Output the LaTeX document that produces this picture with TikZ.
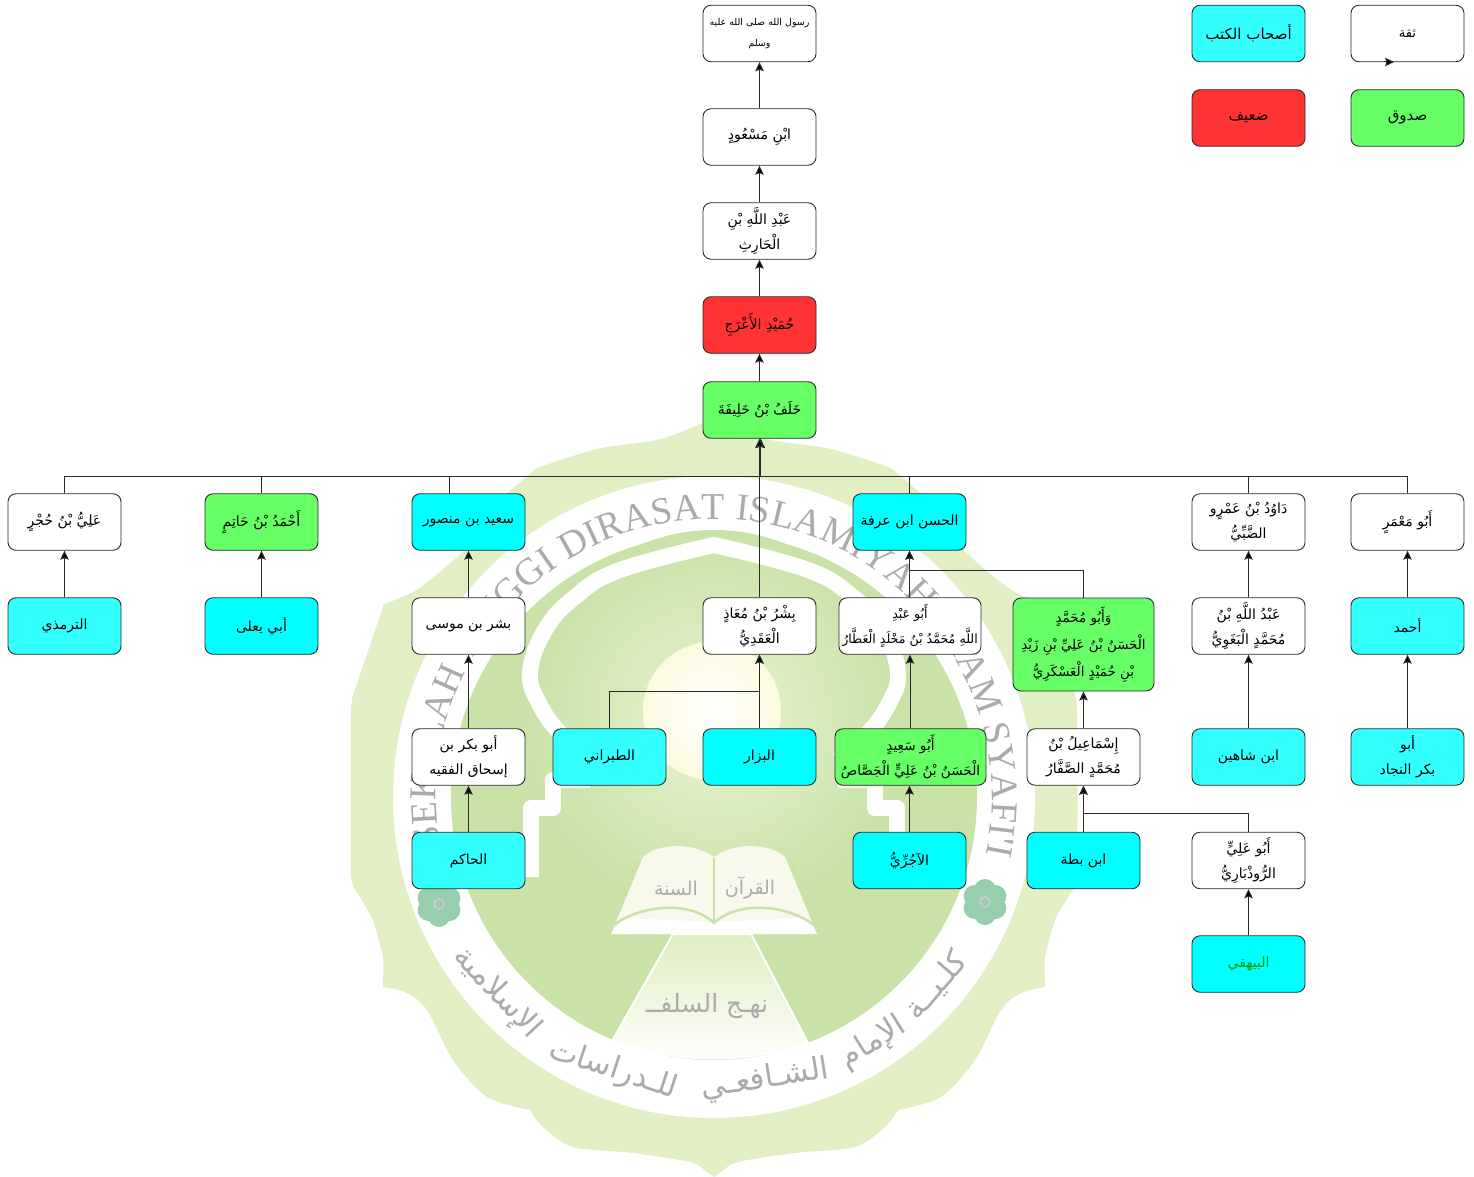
\documentclass[tikz,border=0pt]{standalone}
\usepackage{fontspec}
\usetikzlibrary{arrows.meta,decorations.text}
\TeXXeTstate=1
\newfontfamily\arabicfont[Script=Arabic]{DejaVu Sans}
\newfontfamily\ringfont{Liberation Serif}
\definecolor{cyA}{HTML}{00FFFF}
\definecolor{cyB}{HTML}{33FFFF}
\definecolor{grn}{HTML}{66FF66}
\definecolor{rd}{HTML}{FF3333}
\definecolor{edge}{HTML}{2A2A2A}
\definecolor{sealout}{HTML}{E2EFC4}
\definecolor{sealin}{HTML}{C9E2A8}
\definecolor{sealmid}{HTML}{E0EDC0}
\definecolor{ringtext}{HTML}{ABABAB}
\definecolor{flower}{HTML}{97CFAE}
\definecolor{pagec}{HTML}{F8F9EC}
\definecolor{sun}{HTML}{FCFBDF}
\newcommand{\ar}[1]{\beginR #1\endR}
\tikzset{
  box/.style={rectangle,rounded corners=8pt,draw=edge,line width=.9pt,minimum width=113pt,minimum height=56.5pt,inner sep=0pt,align=center,text=black,font=\arabicfont\fontsize{14}{25}\selectfont},
  wbox/.style={box,fill=white},
  cbox/.style={box,fill=cyA},
  dbox/.style={box,fill=cyB},
  gbox/.style={box,fill=grn},
  rbox/.style={box,fill=rd},
  conn/.style={draw=edge,line width=1pt,-{Stealth[length=9pt,width=8.5pt,inset=1.5pt,fill=black]}},
  ringword/.style={inner sep=0pt,text=ringtext,font=\arabicfont\fontsize{31}{31}\selectfont},
  bookword/.style={inner sep=0pt,text=ringtext,font=\arabicfont\fontsize{19}{19}\selectfont},
  archline/.style={draw=white,line width=16pt,line join=round},
  petal/.style={fill=flower,draw=none}
}
\begin{document}
\begin{tikzpicture}[x=1pt,y=-1pt]
\useasboundingbox (0,0) rectangle (1474,1177);
% ---- watermark seal ----
\fill[sealout] plot[smooth,tension=.5] coordinates {(714,418) (767,439) (831,449) (891,468)}
 -- plot[smooth,tension=.5] coordinates {(891,468) (941,512) (964,550) (1010,589) (1044,604)}
 -- plot[smooth,tension=.3] coordinates {(1044,604) (1070,681) (1077,710) (1077,874) (1068,897) (1055,920) (1045,957) (1045,987)}
 -- plot[smooth,tension=.5] coordinates {(1045,987) (1021,993) (1001,1010) (975,1060) (941,1097) (898,1110)}
 -- plot[smooth,tension=.5] coordinates {(898,1110) (885,1127) (855,1147) (795,1153) (738,1162) (721,1172) (714,1177)}
 -- plot[smooth,tension=.5] coordinates {(714,1177) (707,1172) (690,1162) (633,1153) (573,1147) (543,1127) (530,1110)}
 -- plot[smooth,tension=.5] coordinates {(530,1110) (487,1097) (453,1060) (427,1010) (407,993) (383,987)}
 -- plot[smooth,tension=.3] coordinates {(383,987) (383,957) (373,920) (360,897) (351,874) (351,710) (358,681) (384,604)}
 -- plot[smooth,tension=.5] coordinates {(384,604) (418,589) (464,550) (487,512) (537,468)}
 -- plot[smooth,tension=.5] coordinates {(537,468) (597,449) (661,439) (714,418)} -- cycle;
\fill[white] (714,797) circle[radius=321pt];
\fill[sealin] (714,797) circle[radius=263pt];
\shade[inner color=sealmid!70!white,outer color=sealin] (714,720) circle[radius=190pt];
\shade[inner color=white,outer color=sun] (712,711) circle[radius=69pt];
% arch
\draw[archline,miter limit=6,line join=miter]
  plot[smooth,tension=.7] coordinates {(590,760) (560,733) (540,705) (530,673) (545,630) (575,597) (620,570) (714,545)}
  -- plot[smooth,tension=.7] coordinates {(714,545) (808,570) (853,597) (883,630) (898,673) (888,705) (868,733) (838,760)};
\draw[archline] (590,780) -- (553,780) -- (553,808) -- (531,808) -- (531,877);
\draw[archline] (838,780) -- (875,780) -- (875,808) -- (897,808) -- (897,877);
% path below the book
\shade[top color=sealmid,bottom color=white,draw=white,line width=2pt] (673,934) -- (612,1041) .. controls (680,1064) and (745,1064) .. (808,1043) -- (751,934) -- cycle;
% book
\fill[pagec] (611,934) -- (643,857) .. controls (655,845) and (690,840) .. (714,857) .. controls (738,840) and (773,845) .. (785,857) -- (817,934) -- cycle;
\fill[white] (611,934) -- (623,918) -- (714,922) -- (805,918) -- (817,934) -- cycle;
\draw[sealin,line width=2.5pt] (612,925) -- (637,860);
\draw[sealin,line width=2.5pt] (816,925) -- (791,860);
\draw[sealin,line width=2.5pt] (614,925) .. controls (640,905) and (690,900) .. (714,923) .. controls (738,900) and (788,905) .. (814,925);
\draw[sealin,line width=2.5pt] (714,858) -- (714,923);
\node[bookword] (wq) at (750,888) {\ar{القرآن}};
\node[bookword] (ws) at (676,888) {\ar{السنة}};
\node[bookword,font=\arabicfont\fontsize{25}{25}\selectfont] (wn) at (707,1006) {\ar{نهـج السلفــ}};
% flowers
\foreach \cx/\cy in {439/904,985/902}{
  \foreach \a in {0,60,...,300}{\fill[petal] ([shift={(\a+30:12pt)}]\cx,\cy) circle[radius=11pt];}
  \fill[petal] (\cx,\cy) circle[radius=13pt];
  \draw[white!80!black,line width=1.6pt] (\cx,\cy) circle[radius=5pt];
}
% ring text
\path[decorate,decoration={text along path,text align={fit to path},text={|\ringfont\fontsize{38}{38}\selectfont\color{ringtext}|SEKOLAH TINGGI DIRASAT ISLAMIYAH IMAM SYAFI'I}}]
  ([shift={(190:278pt)}]714,797) arc[start angle=190,end angle=-12,radius=278pt];
\node[ringword,rotate=49] (r1) at (936,986) {\ar{كلـيــة}};
\node[ringword,rotate=32] (r2) at (873,1043) {\ar{الإمام}};
\node[ringword,rotate=9] (r3) at (765,1080) {\ar{الشـافعـي}};
\node[ringword,rotate=-18] (r4) at (613,1070) {\ar{للـدراسات}};
\node[ringword,rotate=-47] (r5) at (497,993) {\ar{الإسلامية}};
% ---- boxes ----
\node[wbox,font=\arabicfont\fontsize{9.5}{21}\selectfont] (n1) at (759.5,33.5) {\ar{رسول الله صلى الله عليه}\\\ar{وسلم}};
\node[wbox] (n2) at (759.5,137) {\ar{ابْنِ مَسْعُودٍ}};
\node[wbox] (n3) at (759.5,231) {\ar{عَبْدِ اللَّهِ بْنِ}\\\ar{الْحَارِثِ}};
\node[rbox] (n4) at (759.5,325) {\ar{حُمَيْدِ الأَعْرَجِ}};
\node[gbox] (n5) at (759.5,410) {\ar{خَلَفُ بْنُ خَلِيفَةَ}};
\node[wbox,font=\arabicfont\fontsize{13}{25}\selectfont] (leg1) at (1407.5,33.5) {\ar{ثقة}};
\node[dbox,font=\arabicfont\fontsize{15}{25}\selectfont] (leg2) at (1248.5,33.5) {\ar{أصحاب الكتب}};
\node[rbox,font=\arabicfont\fontsize{15}{25}\selectfont] (leg3) at (1248.5,118) {\ar{ضعيف}};
\node[gbox,font=\arabicfont\fontsize{15}{25}\selectfont] (leg4) at (1407.5,118) {\ar{صدوق}};
\node[wbox] (a1) at (64.5,522) {\ar{عَلِيُّ بْنُ حُجْرٍ}};
\node[gbox] (b1) at (261.5,522) {\ar{أَحْمَدُ بْنُ حَاتِمٍ}};
\node[cbox] (c1) at (468.5,522) {\ar{سعيد بن منصور}};
\node[cbox] (d1) at (909.5,522) {\ar{الحسن ابن عرفة}};
\node[wbox] (e1) at (1248.5,522) {\ar{دَاوُدُ بْنُ عَمْرٍو}\\\ar{الضَّبِّيُّ}};
\node[wbox] (f1) at (1407.5,522) {\ar{أَبُو مَعْمَرٍ}};
\node[dbox] (a2) at (64.5,626) {\ar{الترمذي}};
\node[cbox] (b2) at (261.5,626) {\ar{أبي يعلى}};
\node[wbox] (c2) at (468.5,626) {\ar{بشر بن موسى}};
\node[wbox] (g2) at (759.5,626) {\ar{بِشْرُ بْنُ مُعَاذٍ}\\\ar{الْعَقَدِيُّ}};
\node[wbox,minimum width=142pt,font=\arabicfont\fontsize{12.6}{25}\selectfont] (h2) at (910,626) {\ar{أَبُو عَبْدِ}\\\ar{اللَّهِ مُحَمَّدُ بْنُ مَخْلَدٍ الْعَطَّارُ}};
\node[gbox,minimum width=141pt,minimum height=93pt,font=\arabicfont\fontsize{13.4}{27}\selectfont] (i2) at (1083.5,644.5) {\ar{وَأَبُو مُحَمَّدٍ}\\\ar{الْحَسَنُ بْنُ عَلِيِّ بْنِ زَيْدِ}\\\ar{بْنِ حُمَيْدٍ الْعَسْكَرِيُّ}};
\node[wbox] (e2) at (1248.5,626) {\ar{عَبْدُ اللَّهِ بْنُ}\\\ar{مُحَمَّدٍ الْبَغَوِيُّ}};
\node[dbox] (f2) at (1407.5,626) {\ar{أحمد}};
\node[wbox] (c3) at (468.5,757) {\ar{أبو بكر بن}\\\ar{إسحاق الفقيه}};
\node[dbox] (j3) at (609.5,757) {\ar{الطبراني}};
\node[cbox] (k3) at (759.5,757) {\ar{البزار}};
\node[gbox,minimum width=151pt,font=\arabicfont\fontsize{13.6}{25}\selectfont] (l3) at (910.5,757) {\ar{أَبُو سَعِيدٍ}\\\ar{الْحَسَنُ بْنُ عَلِيٍّ الْجَصَّاصُ}};
\node[wbox] (m3) at (1083.5,757) {\ar{إِسْمَاعِيلُ بْنُ}\\\ar{مُحَمَّدٍ الصَّفَّارُ}};
\node[dbox] (e3) at (1248.5,757) {\ar{ابن شاهين}};
\node[dbox] (f3) at (1407.5,757) {\ar{أبو}\\\ar{بكر النجاد}};
\node[dbox] (c4) at (468.5,860.5) {\ar{الحاكم}};
\node[cbox] (l4) at (909.5,860.5) {\ar{الآجُرِّيُّ}};
\node[cbox] (m4) at (1083.5,860.5) {\ar{ابن بطة}};
\node[wbox] (e4) at (1248.5,860.5) {\ar{أَبُو عَلِيٍّ}\\\ar{الرُّوذْبَارِيُّ}};
\node[cbox,text={green!60!black}] (e5) at (1248.5,964) {\ar{البيهقي}};
% ---- connectors ----
\coordinate (bus) at (760.3,476);
\coordinate (legA) at (1384,62);
\coordinate (legB) at (1394,62);
\draw[conn] (n2) -- (n1);
\draw[conn] (n3) -- (n2);
\draw[conn] (n4) -- (n3);
\draw[conn] (n5) -- (n4);
\draw[conn] (legA) -- (legB);
\draw[conn] (a1.north) |- (bus) -- (bus|-n5.south);
\draw[conn] (b1.north) |- (bus) -- (bus|-n5.south);
\draw[conn] ([xshift=-19pt]c1.north) |- (bus) -- (bus|-n5.south);
\draw[conn] (d1.north) |- (bus) -- (bus|-n5.south);
\draw[conn] (e1.north) |- (bus) -- (bus|-n5.south);
\draw[conn] (f1.north) |- (bus) -- (bus|-n5.south);
\draw[conn] (g2.north) -- (n5.south);
\draw[conn] (a2) -- (a1);
\draw[conn] (b2) -- (b1);
\draw[conn] (c2) -- (c1);
\draw[conn] (c3) -- (c2);
\draw[conn] (c4) -- (c3);
\coordinate (jy) at (759.5,691);
\draw[conn] (j3.north) |- (jy) -- (g2.south);
\draw[conn] (k3.north) -- (g2.south);
\draw[conn] (h2.north-|d1.south) -- (d1.south);
\coordinate (iy) at (909.5,570);
\draw[conn] (i2.north) |- (iy) -- (d1.south);
\draw[conn] (l3.north-|h2.south) -- (h2.south);
\draw[conn] (l4.north) -- (l4.north|-l3.south);
\draw[conn] (m3) -- (i2);
\draw[conn] (m4) -- (m3);
\coordinate (ey) at (1083.5,813);
\draw[conn] (e4.north) |- (ey) -- (m3.south);
\draw[conn] (e2) -- (e1);
\draw[conn] (e3) -- (e2);
\draw[conn] (e5) -- (e4);
\draw[conn] (f2) -- (f1);
\draw[conn] (f3) -- (f2);
\end{tikzpicture}
\end{document}
